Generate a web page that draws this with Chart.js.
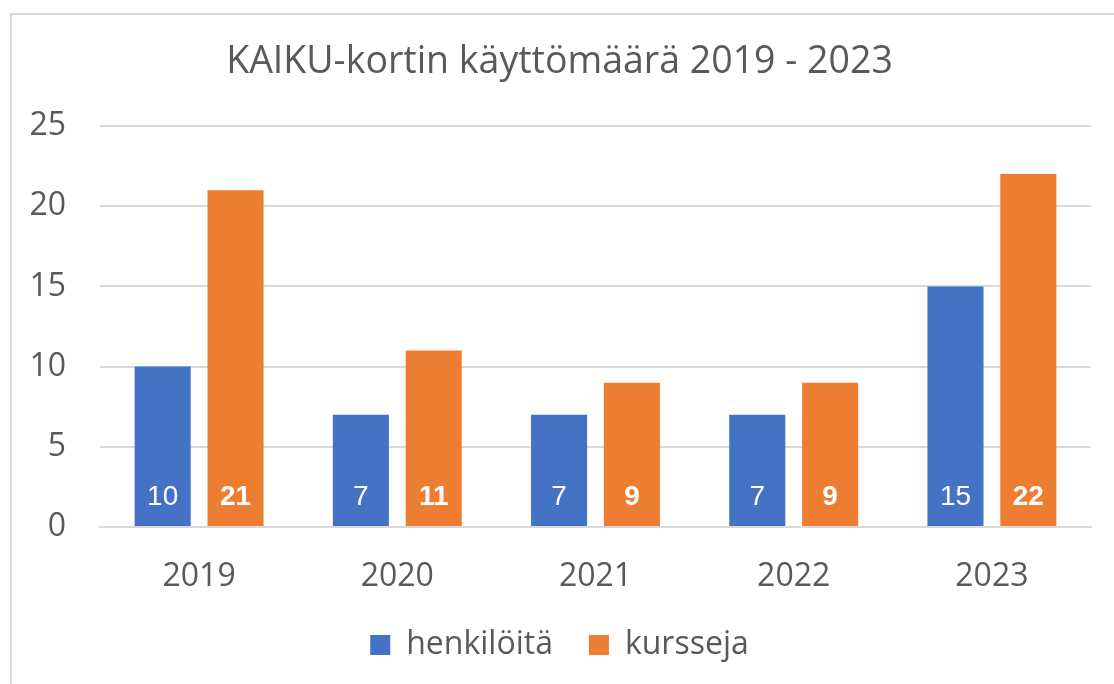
<!DOCTYPE html>
<html>
<head>
<meta charset="utf-8">
<script src="https://cdn.jsdelivr.net/npm/chart.js@4"></script>
<style>
  html, body { margin: 0; padding: 0; background: #fff; }
  #wrap { position: relative; width: 1114px; height: 684px; overflow: hidden; }
  #frame { position: absolute; left: 10px; top: 13px; width: 1200px; height: 800px; border: 2px solid #d9d9d9; box-sizing: border-box; }
  canvas { position: absolute; left: 0; top: 0; }
</style>
</head>
<body>
<div id="wrap">
  <div id="frame"></div>
  <canvas id="kaiku" width="1114" height="684"></canvas>
</div>
<script>
// data
var years = ["2019", "2020", "2021", "2022", "2023"];
var henkiloita = [10, 7, 7, 7, 15];
var kursseja = [21, 11, 9, 9, 22];
var yTicks = [0, 5, 10, 15, 20, 25];

var textColor = "#595959";
var gridColor = "#d9d9d9";
var fontFam = "'Open Sans', 'Noto Sans', sans-serif";

// white value labels at the foot of each bar
var barLabels = {
	id: 'barLabels',
	afterDatasetsDraw: function(chart) {
		var ctx = chart.ctx;
		var yScale = chart.scales.y;
		var base = yScale.getPixelForValue(0);
		chart.data.datasets.forEach(function(ds, i) {
			var meta = chart.getDatasetMeta(i);
			ctx.save();
			ctx.fillStyle = "#ffffff";
			ctx.font = (i === 1 ? "bold " : "") + "28px 'Liberation Sans', Arial, sans-serif";
			ctx.textAlign = "center";
			ctx.textBaseline = "middle";
			meta.data.forEach(function(bar, j) {
				ctx.fillText(String(ds.data[j]), bar.x, base - 30);
			});
			ctx.restore();
		});
	}
};

var ctx = document.getElementById("kaiku");
new Chart(ctx, {
	type: 'bar',
	data: {
		labels: years,
		datasets: [{
			label: "henkilöitä",
			backgroundColor: "#4472c4",
			data: henkiloita,
		},
		{
			label: "kursseja",
			backgroundColor: "#ed7d31",
			data: kursseja,
		}],
	},
	plugins: [barLabels],
	options: {
		responsive: false,
		animation: false,
		categoryPercentage: 0.735,
		barPercentage: 0.77,
		layout: {
			padding: { left: 28, right: 23, top: 0, bottom: 13 }
		},
		plugins: {
			tooltip: { enabled: false },
			title: {
				display: true,
				text: "KAIKU-kortin käyttömäärä 2019 - 2023",
				color: textColor,
				font: { family: fontFam, size: 37.5, weight: 'normal' },
				padding: { top: 40, bottom: 41 }
			},
			legend: {
				position: 'bottom',
				labels: {
					color: textColor,
					boxWidth: 20,
					boxHeight: 20,
					padding: 36,
					font: { family: fontFam, size: 32 }
				}
			}
		},
		scales: {
			x: {
				grid: { display: false },
				border: { color: gridColor, width: 2 },
				afterFit: function(scale) {
					scale.height = 66;
				},
				ticks: {
					color: textColor,
					padding: 23,
					font: { family: fontFam, size: 32 }
				}
			},
			y: {
				min: 0,
				max: 25,
				afterBuildTicks: function(scale) {
					scale.ticks = yTicks.map(function(v) { return { value: v }; });
				},
				afterFit: function(scale) {
					scale.width = 72;
				},
				grid: { color: gridColor, lineWidth: 2, drawTicks: false },
				border: { display: false },
				ticks: {
					color: textColor,
					padding: 34,
					font: { family: fontFam, size: 32 }
				}
			}
		}
	}
});
</script>
</body>
</html>
